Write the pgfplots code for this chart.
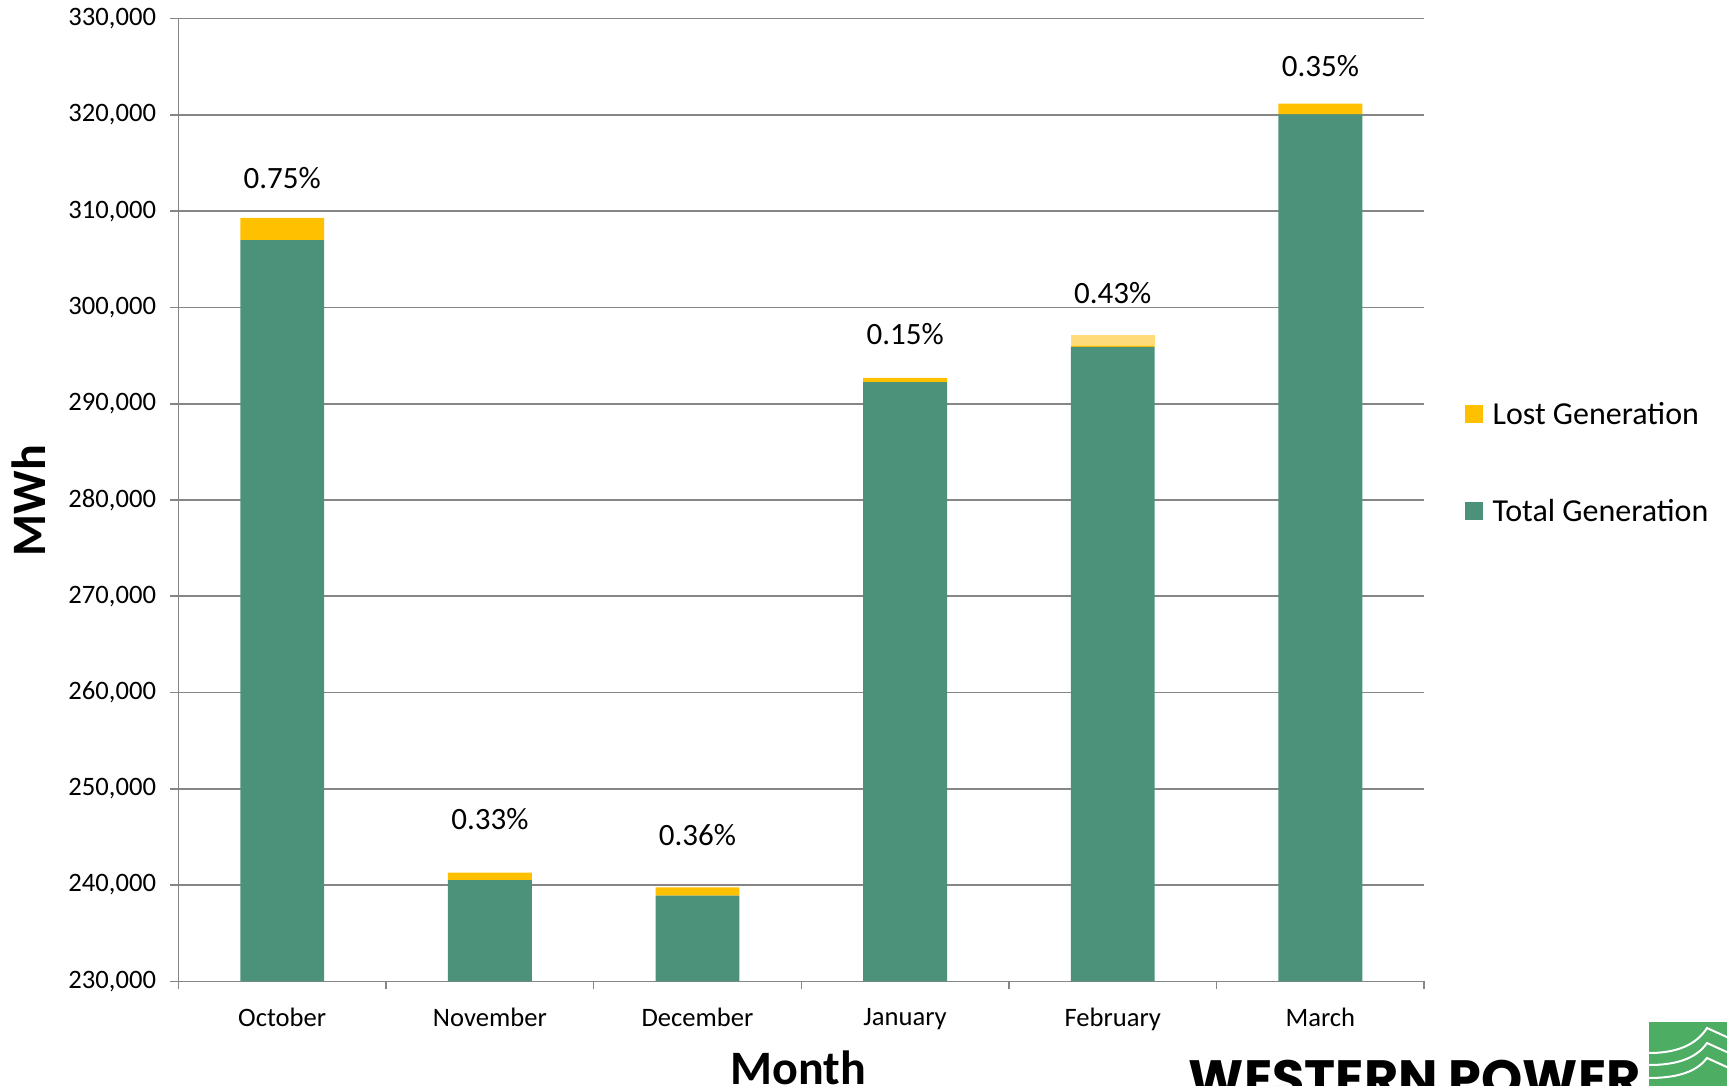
\documentclass[border=0pt]{standalone}
\usepackage{fontspec}
\setmainfont{Carlito}
\newfontfamily\logofont{Poppins}
\usepackage{pgfplots}
\pgfplotsset{compat=1.18}
\usepackage{pgfplotstable}
\definecolor{totgreen}{RGB}{76,146,123}
\definecolor{lostyellow}{RGB}{255,192,0}
\definecolor{lightyellow}{RGB}{255,219,122}
\definecolor{gridgray}{RGB}{134,134,134}
\definecolor{logogreen}{RGB}{76,173,99}

\pgfplotstableread{
x total lost lostlight
0 307000 2300 0
1 240500 795 0
2 238900 860 0
3 292250 440 0
4 295900 170 1100
5 320050 1120 0
}\gen

\begin{document}
\begin{tikzpicture}
\path[use as bounding box] (-89.2pt,-52.3pt) rectangle (774.3pt,490.65pt);
\begin{scope}
\clip (-89.2pt,-52.3pt) rectangle (774.3pt,490.65pt);
\begin{axis}[
  scale only axis, width=622.9pt, height=481.3pt,
  at={(0pt,0pt)}, anchor=south west,
  ybar stacked, bar width=41.9pt,
  xmin=-0.5, xmax=5.5, ymin=230000, ymax=330000,
  xtick={-0.5,0.5,...,5.5},
  xticklabels={October,November,December,January,February,March,{}},
  xticklabel style={font=\fontsize{13.3}{16}\selectfont, xshift=51.9pt, yshift=-9.4pt, anchor=north, inner sep=0pt},
  ytick={230000,240000,...,330000},
  scaled y ticks=false,
  yticklabel style={font=\fontsize{13.3}{16}\selectfont, anchor=east, inner sep=0pt, xshift=-7pt},
  axis x line*=bottom, axis y line*=left,
  axis line style={draw=gridgray, line width=0.8pt},
  ymajorgrids, grid style={draw=gridgray, line width=0.8pt},
  major tick style={draw=gridgray, line width=0.8pt},
  tick align=outside, major tick length=4pt,
  reverse legend,
  legend style={draw=none, fill=none, at={(axis description cs:1.0328,0.539)}, anchor=west,
    inner sep=0pt, font=\fontsize{16}{19}\selectfont,
    /tikz/column sep=4.7pt, /tikz/row sep=38pt,
    nodes={inner sep=0pt, text height=10.5pt, text depth=0pt}},
  legend cell align=left,
  legend image code/.code={\fill[#1] (0pt,-4.4pt) rectangle (8.85pt,4.45pt);},
  /pgf/number format/.cd, 1000 sep={,}, fixed, assume math mode=true,
]
\addplot[fill=totgreen, draw=none] table[x=x, y=total] {\gen};
\addlegendentry{Total Generation}
\addplot[fill=lostyellow, draw=none] table[x=x, y=lost] {\gen};
\addlegendentry{Lost Generation}
\addplot[fill=lightyellow, draw=none, forget plot] table[x=x, y=lostlight] {\gen};

\node[font=\fontsize{15.5}{18}\selectfont] at (axis cs:0,313410) {0.75\%};
\node[font=\fontsize{15.5}{18}\selectfont] at (axis cs:1,246850) {0.33\%};
\node[font=\fontsize{15.5}{18}\selectfont] at (axis cs:2,245200) {0.36\%};
\node[font=\fontsize{15.5}{18}\selectfont] at (axis cs:3,297280) {0.15\%};
\node[font=\fontsize{15.5}{18}\selectfont, fill=white, inner sep=1pt] at (axis cs:4,301510) {0.43\%};
\node[font=\fontsize{15.5}{18}\selectfont] at (axis cs:5,325080) {0.35\%};
\end{axis}
\node[font=\bfseries\fontsize{24}{28}\selectfont, rotate=90] at (-74.7pt,240.3pt) {MWh};
\node[font=\bfseries\fontsize{24}{28}\selectfont, anchor=base, inner sep=0pt] at (310pt,-51.6pt) {Month};
\node[anchor=north west, inner sep=0pt] at (505pt,-39.35pt) {\resizebox{226pt}{!}{\logofont\bfseries WESTERN POWER}};
\fill[logogreen] (735.3pt,-20.35pt) rectangle (790pt,-70pt);
\draw[white, line width=1pt] (735.3pt,-35.85pt) .. controls (752pt,-35.85pt) and (760pt,-30pt) .. (764.3pt,-23.35pt) -- (780pt,-30.5pt);
\draw[white, line width=1pt] (735.3pt,-41.85pt) .. controls (752pt,-41.85pt) and (760pt,-37pt) .. (764.3pt,-30.85pt) -- (780pt,-38pt);
\draw[white, line width=1pt] (735.3pt,-48.35pt) .. controls (752pt,-48.35pt) and (760pt,-44pt) .. (764.3pt,-38.35pt) -- (780pt,-45.5pt);
\end{scope}
\end{tikzpicture}
\end{document}
